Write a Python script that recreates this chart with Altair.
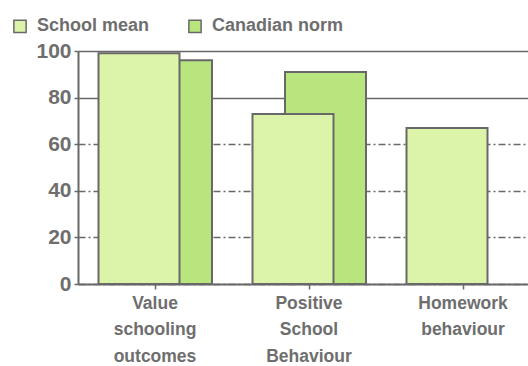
import altair as alt
import pandas as pd

# Scale scores per domain (0-100)
categories = ["Value schooling outcomes", "Positive School Behaviour", "Homework behaviour"]
school_mean = [99, 73, 67]
canadian_norm = [96, 91, None]
series = ["School mean", "Canadian norm"]
fills = ["#dcf4aa", "#b9e57f"]
y_ticks = [0, 20, 40, 60, 80, 100]

rows = []
for cat, sm, cn in zip(categories, school_mean, canadian_norm):
    rows.append({"category": cat, "series": series[0], "value": sm})
    if cn is not None:
        rows.append({"category": cat, "series": series[1], "value": cn})
df = pd.DataFrame(rows)

FONT = "Liberation Sans"
TEXT = "#6e6e6e"
LINE = "#686868"

# The third category runs past the right edge of the canvas
x_enc = alt.X(
    "category:N",
    sort=categories,
    scale=alt.Scale(paddingInner=0, paddingOuter=0, range=[0, 462]),
    axis=alt.Axis(
        title=None,
        labelAngle=0,
        labelExpr="split(datum.label, ' ')",
        labelLineHeight=26.5,
        labelFontSize=17.5,
        labelPadding=5,
        labelBaseline="top",
        tickSize=5,
        grid=False,
    ),
)
y_enc = alt.Y(
    "value:Q",
    scale=alt.Scale(domain=[0, 100], nice=False),
    axis=alt.Axis(
        title=None,
        values=y_ticks,
        labelFontSize=21,
        labelPadding=3,
        tickSize=4,
        grid=True,
        gridColor=LINE,
        gridWidth=1.5,
        gridDash={"condition": {"test": "datum.value >= 80", "value": [1, 0]}, "value": [7, 3, 2, 3]},
    ),
)
fill_enc = alt.Fill(
    "series:N",
    scale=alt.Scale(domain=series, range=fills),
    legend=alt.Legend(
        title=None,
        orient="none",
        legendX=-67,
        legendY=-34,
        direction="horizontal",
        symbolType="square",
        symbolSize=150,
        symbolStrokeColor=LINE,
        symbolStrokeWidth=1.5,
        labelFontSize=18,
        labelOffset=8,
        columnPadding=35,
    ),
)

base = alt.Chart(df)
norm_bars = base.transform_filter(alt.datum.series == series[1]).mark_bar(
    size=81, xOffset=16.5, stroke=LINE, strokeWidth=2
).encode(x=x_enc, y=y_enc, fill=fill_enc)
mean_bars = base.transform_filter(alt.datum.series == series[0]).mark_bar(
    size=81, xOffset=-16, stroke=LINE, strokeWidth=2
).encode(x=x_enc, y=y_enc, fill=fill_enc)

chart = (
    alt.layer(norm_bars, mean_bars)
    .properties(
        width=450,
        height=233,
        autosize="none",
        padding={"left": 78, "top": 51, "right": 0, "bottom": 82},
        background="white",
    )
    .configure_view(stroke=None)
    .configure_axis(
        labelFont=FONT,
        labelFontWeight="bold",
        labelColor=TEXT,
        domainColor=LINE,
        domainWidth=2,
        tickColor=LINE,
        tickWidth=1.5,
    )
    .configure_legend(labelFont=FONT, labelFontWeight="bold", labelColor=TEXT)
)

chart.save("out.html", embed_options={"renderer": "svg", "actions": False})
